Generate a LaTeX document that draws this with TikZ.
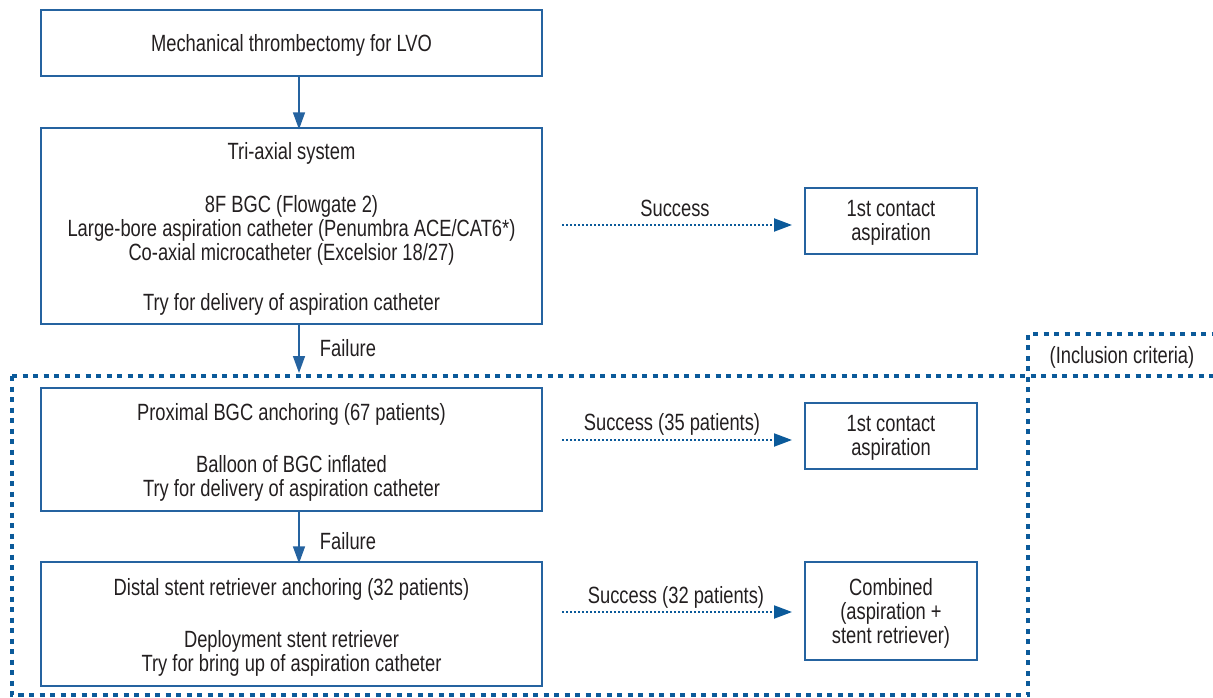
\documentclass[tikz,border=0pt]{standalone}
\usepackage{fontspec}
\setmainfont{Liberation Sans}[FakeStretch=0.78]
\usetikzlibrary{arrows.meta}
\definecolor{bblue}{HTML}{2563A0}
\definecolor{dblue}{HTML}{0B5A9A}
\definecolor{txt}{HTML}{231F20}
\begin{document}
\begin{tikzpicture}[x=1pt,y=-1pt, font=\fontsize{23.5}{24}\selectfont, text=txt,
  box/.style={draw=bblue, line width=1.3pt, inner sep=0pt},
  arr/.style={draw=bblue, line width=1.5pt, -{Triangle[length=17pt,width=12pt]}},
  darr/.style={draw=dblue, line width=2pt, dash pattern=on 2pt off 2pt, -{Triangle[length=18pt,width=13pt]}},
  region/.style={draw=dblue, line width=3.5pt, dash pattern=on 5pt off 5.5pt},
  lbl/.style={inner sep=0pt, align=center}]
\useasboundingbox (0,0) rectangle (1213,698);

\node[box, minimum width=501pt, minimum height=66pt] (b1) at (291.5,43) {};
\node[lbl] (b1t) at ([yshift=-2pt]b1.center) {Mechanical thrombectomy for LVO};
\node[box, minimum width=501pt, minimum height=196pt] (b2) at (291.5,226) {};
\node[lbl] (b2t) at ([yshift=-3pt]b2.center) {Tri-axial system\\[29pt]8F BGC (Flowgate 2)\\Large-bore aspiration catheter (Penumbra ACE/CAT6*)\\Co-axial microcatheter (Excelsior 18/27)\\[26pt]Try for delivery of aspiration catheter};
\node[box, minimum width=501pt, minimum height=123pt] (b3) at (291.5,449.5) {};
\node[lbl] (b3t) at ([yshift=-3pt]b3.center) {Proximal BGC anchoring (67 patients)\\[28pt]Balloon of BGC inflated\\Try for delivery of aspiration catheter};
\node[box, minimum width=501pt, minimum height=124pt] (b4) at (291.5,624) {};
\node[lbl] (b4t) at ([yshift=-3pt]b4.center) {Distal stent retriever anchoring (32 patients)\\[28pt]Deployment stent retriever\\Try for bring up of aspiration catheter};

\node[box, minimum width=172pt, minimum height=66pt] (c1) at (891,221) {};
\node[lbl] (c1t) at ([yshift=-2pt]c1.center) {1st contact\\aspiration};
\node[box, minimum width=172pt, minimum height=66pt] (c2) at (891,436) {};
\node[lbl] (c2t) at ([yshift=-2pt]c2.center) {1st contact\\aspiration};
\node[box, minimum width=172pt, minimum height=98pt] (c3) at (891,611) {};
\node[lbl] (c3t) at ([yshift=-2pt]c3.center) {Combined\\(aspiration +\\stent retriever)};

\coordinate (ax) at (299,0);
\draw[arr] (b1.south -| ax) -- ([yshift=-2pt]b2.north -| ax);
\coordinate (fend) at (299,373);
\draw[arr] (b2.south -| ax) -- (fend);
\draw[arr] (b3.south -| ax) -- ([yshift=-2pt]b4.north -| ax);
\node[lbl] (f1) at (348,348) {Failure};
\node[lbl] (f2) at (348,541) {Failure};

\coordinate (s1a) at (562,225);
\coordinate (s1b) at (792,225);
\draw[darr] (s1a) -- (s1b);
\node[lbl] (t1) at (675,208) {Success};
\coordinate (s2a) at (562,440);
\coordinate (s2b) at (792,440);
\draw[darr] (s2a) -- (s2b);
\node[lbl] (t2) at (672,424) {Success (35 patients)};
\coordinate (s3a) at (562,612);
\coordinate (s3b) at (792,612);
\draw[darr] (s3a) -- (s3b);
\node[lbl] (t3) at (676,597) {Success (32 patients)};

\draw[region] (12,376) -- (12,695) -- (1028,695) -- (1028,334) -- (1213,334);
\draw[region] (12,376) -- (1213,376);
\node[lbl] (inc) at (1122,357) {(Inclusion criteria)};
\end{tikzpicture}
\end{document}
